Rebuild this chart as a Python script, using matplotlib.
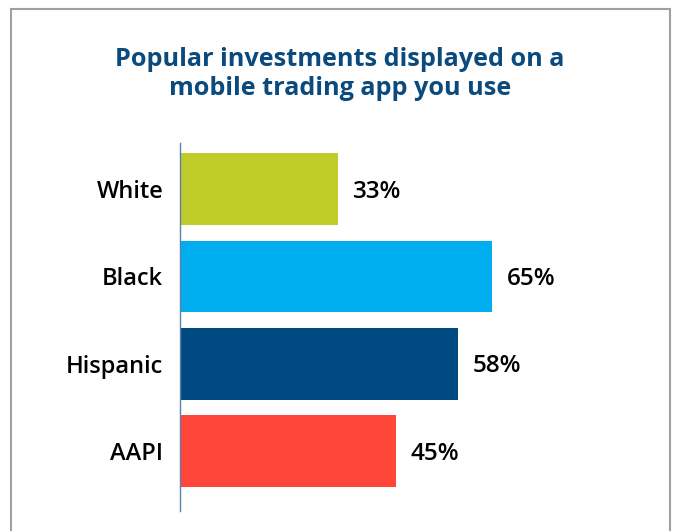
import matplotlib
matplotlib.use("Agg")
import matplotlib.pyplot as plt
from matplotlib.patches import Rectangle

groups = ["White", "Black", "Hispanic", "AAPI"]
shares = [33, 65, 58, 45]
bar_colors = ["#BFCC2A", "#00AEEF", "#004880", "#FF4639"]
title = "Popular investments displayed on a\nmobile trading app you use"

plt.rcParams['font.family'] = ['Open Sans', 'DejaVu Sans']

fig = plt.figure(figsize=(6.73, 5.31), dpi=100)
W, H = 673, 531

# gray frame around the panel (bottom edge runs off the picture)
fig.patches.append(Rectangle((11.5 / W, -0.05), (670 - 11.5) / W, (531 - 8.5) / H + 0.05,
                             transform=fig.transFigure, fill=False,
                             edgecolor="#A0A0A0", linewidth=1.5))

ax = fig.add_axes([180 / W, 20 / H, 480 / W, (511 - 143) / H])
ypos = list(range(len(groups)))
ax.barh(ypos, shares, height=0.82, color=bar_colors)
ax.set_xlim(0, 100)
ax.set_ylim(3.686, -0.526)

for y, v in zip(ypos, shares):
    ax.text(v + 3, y + 0.03, f"{v}%", va="center", ha="left",
            fontsize=17.5, fontweight="semibold", color="black")

ax.set_yticks(ypos)
ax.set_yticklabels(groups, fontsize=17, fontweight="semibold")
ax.tick_params(axis="y", length=0, pad=12)
ax.set_xticks([])
for s in ["top", "right", "bottom"]:
    ax.spines[s].set_visible(False)
ax.spines["left"].set_color("#5B7FA8")
ax.spines["left"].set_linewidth(1.0)

fig.text(340 / W, 1 - 74 / H, title, ha="center", va="center",
         fontsize=18.2, fontweight="bold", color="#0B4A7D", linespacing=1.2)

fig.savefig("out.png", dpi=100)
